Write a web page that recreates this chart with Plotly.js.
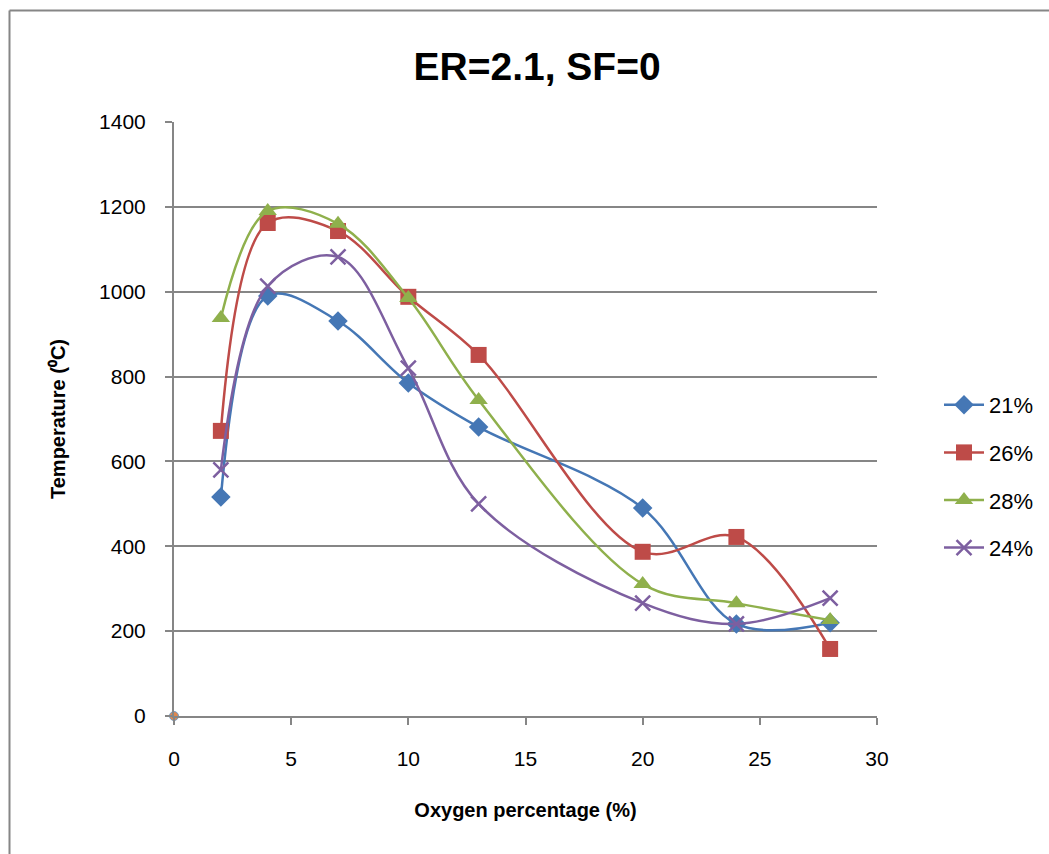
<!DOCTYPE html>
<html>
<head>
<meta charset="utf-8">
<script src="https://cdn.plot.ly/plotly-3.0.1.min.js"></script>
<style>
html,body{margin:0;padding:0;background:#fff;}
#chart{width:1049px;height:854px;}
</style>
</head>
<body>
<div id="chart"></div>
<script>
const xValues = [2, 4, 7, 10, 13, 20, 24, 28];
const seriesNames = ["21%", "26%", "28%", "24%"];
const s21 = [516, 990, 931, 785, 681, 490, 217, 220];
const s26 = [672, 1162, 1143, 988, 851, 387, 422, 158];
const s28 = [938, 1190, 1160, 985, 745, 311, 266, 226];
const s24 = [580, 1013, 1082, 820, 500, 266, 217, 278];
const originX = [0];
const originY = [0];

const colors = ["#4577B5", "#BE4B48", "#8FB04C", "#7D5FA0"];
const symbols = ["diamond", "square", "triangle-up", "x-thin-open"];
const sizes = [15, 16, 16, 15];
const allSeries = [s21, s26, s28, s24];

const font = "Liberation Sans, Arial, sans-serif";

const traces = allSeries.map((ys, i) => ({
  x: xValues,
  y: ys,
  name: seriesNames[i],
  legendgroup: "g" + i,
  type: "scatter",
  mode: "lines+markers",
  line: {color: colors[i], width: 2.5, shape: "spline", smoothing: 1},
  marker: {
    symbol: symbols[i],
    size: sizes[i],
    color: colors[i],
    line: {color: colors[i], width: symbols[i] === "x-thin-open" ? 2.5 : 0}
  }
}));

traces.push({
  x: originX, y: originY, type: "scatter", mode: "markers", showlegend: false,
  cliponaxis: false,
  marker: {symbol: "circle", size: 9, color: "#E0884F", line: {color: "#6F9CC8", width: 1}},
  hoverinfo: "skip"
});

const L = 174, R = 172, T = 122, B = 138;
const W = 1049, H = 854;
const pw = W - L - R, ph = H - T - B;
const px2x = p => (p - L) / pw;
const py2y = p => (H - B - p) / ph;

const layout = {
  width: W, height: H,
  margin: {l: L, r: R, t: T, b: B, pad: 0, autoexpand: false},
  paper_bgcolor: "#fff",
  plot_bgcolor: "#fff",
  font: {family: font, size: 21, color: "#000"},
  title: {
    text: "<b>ER=2.1, SF=0</b>",
    font: {family: font, size: 39, color: "#000"},
    x: 0.512, xanchor: "center",
    y: 1 - 66 / H, yanchor: "middle"
  },
  xaxis: {
    range: [0, 30],
    tickvals: [0, 5, 10, 15, 20, 25, 30],
    ticks: "outside", ticklen: 7, tickcolor: "#868686", tickwidth: 2,
    ticklabelstandoff: 16,
    showline: true, linecolor: "#868686", linewidth: 2,
    showgrid: false, zeroline: false,
    tickfont: {family: font, size: 21, color: "#000"},
    title: {text: "<b>Oxygen percentage (%)</b>", font: {family: font, size: 20, color: "#000"}, standoff: 34}
  },
  yaxis: {
    range: [0, 1400],
    tickvals: [0, 200, 400, 600, 800, 1000, 1200, 1400],
    ticks: "outside", ticklen: 7, tickcolor: "#868686", tickwidth: 2,
    ticklabelstandoff: 15,
    showline: true, linecolor: "#868686", linewidth: 2,
    showgrid: true, gridcolor: "#868686", gridwidth: 2,
    zeroline: false,
    tickfont: {family: font, size: 21, color: "#000"},
    title: {text: "<b>Temperature (⁰C)</b>", font: {family: font, size: 20, color: "#000"}, standoff: 28}
  },
  legend: {
    x: px2x(939), xanchor: "left",
    y: py2y(384), yanchor: "top",
    font: {family: font, size: 22, color: "#000"},
    tracegroupgap: 16,
    itemwidth: 40,
    bgcolor: "rgba(0,0,0,0)"
  },
  shapes: [
    {type: "line", xref: "paper", yref: "paper", x0: px2x(9.5), x1: px2x(1049), y0: py2y(10.5), y1: py2y(10.5), line: {color: "#868686", width: 2}},
    {type: "line", xref: "paper", yref: "paper", x0: px2x(9.5), x1: px2x(9.5), y0: py2y(10.5), y1: py2y(854), line: {color: "#868686", width: 2}}
  ],
  showlegend: true
};

Plotly.newPlot("chart", traces, layout, {displayModeBar: false, staticPlot: true});
</script>
</body>
</html>
